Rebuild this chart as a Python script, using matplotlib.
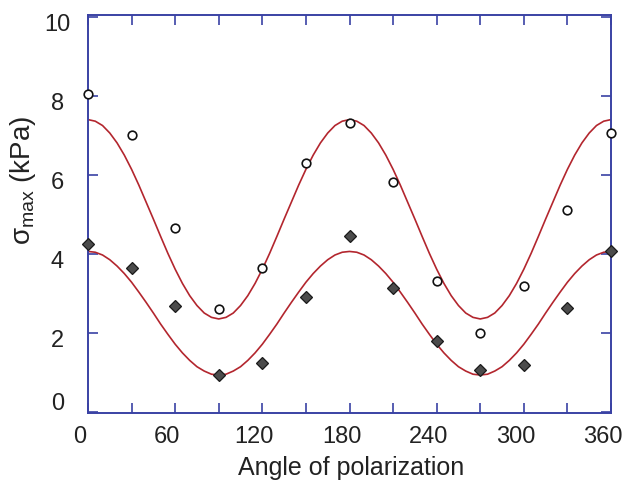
import numpy as np
import matplotlib
matplotlib.use('Agg')
import matplotlib.pyplot as plt
from matplotlib.transforms import ScaledTranslation

plt.rcParams['font.family'] = ['Liberation Sans', 'DejaVu Sans']
plt.rcParams['mathtext.fontset'] = 'custom'
plt.rcParams['mathtext.rm'] = 'Liberation Sans'
plt.rcParams['mathtext.it'] = 'Liberation Sans:italic'

# measured peak stress vs. polarization angle
angle = [0, 30, 60, 90, 120, 150, 180, 210, 240, 270, 300, 330, 360]
sigma_open = [8.05, 7.00, 4.66, 2.60, 3.64, 6.30, 7.32, 5.81, 3.30, 1.99, 3.19, 5.12, 7.05]
sigma_filled = [4.25, 3.64, 2.69, 0.93, 1.23, 2.90, 4.44, 3.14, 1.79, 1.06, 1.18, 2.62, 4.08]

# fitted curves, read every 5 degrees over 0-90 (they repeat every 180)
upper_quarter = [7.40, 7.36, 7.25, 7.06, 6.81, 6.50, 6.14, 5.74, 5.31, 4.88,
                 4.44, 4.01, 3.61, 3.25, 2.94, 2.69, 2.50, 2.39, 2.35]
lower_quarter = [4.06, 4.04, 3.97, 3.85, 3.69, 3.50, 3.28, 3.03, 2.77, 2.50,
                 2.22, 1.96, 1.71, 1.49, 1.30, 1.14, 1.03, 0.95, 0.93]


def full_turn(quarter):
    half = quarter + quarter[-2::-1]
    return half + half[1:]


fit_upper = full_turn(upper_quarter)
fit_lower = full_turn(lower_quarter)
fit_angle = list(range(0, 361, 5))

x_ticks = [0, 60, 120, 180, 240, 300, 360]
x_minor = [30, 90, 150, 210, 270, 330]
y_ticks = [0, 2, 4, 6, 8, 10]

axis_blue = '#3a42a4'
curve_red = '#b3262e'
text_col = '#222222'

fig = plt.figure(figsize=(6.24, 4.83), dpi=100)
ax = fig.add_axes([88/624, 1 - 412.5/483, (611 - 88)/624, (412.5 - 15)/483])

ax.plot(fit_angle, fit_upper, color=curve_red, lw=1.2, zorder=2)
ax.plot(fit_angle, fit_lower, color=curve_red, lw=1.2, zorder=2)
ax.plot(angle, sigma_open, ls='none', marker='o', ms=6.2, mfc='white',
        mec='#111111', mew=1.2, zorder=4, clip_on=False)
ax.plot(angle, sigma_filled, ls='none', marker='D', ms=6.2, mfc='#4b4b4b',
        mec='#1a1a1a', mew=0.9, zorder=4, clip_on=False)

ax.set_xlim(0, 360)
ax.set_ylim(-0.02, 10.05)

for s in ax.spines.values():
    s.set_color(axis_blue)
    s.set_linewidth(1.4)

ax.set_xticks(x_ticks)
ax.set_xticks(x_minor, minor=True)
ax.set_yticks(y_ticks)
ax.tick_params(axis='both', which='both', direction='in', length=7, width=1.2,
               color=axis_blue, top=True, right=True, labelsize=17,
               labelcolor=text_col)
ax.tick_params(axis='x', which='major', pad=10)
ax.tick_params(axis='y', which='major', pad=22)

# nudge tick labels into place
for lab in ax.get_xticklabels():
    lab.set_transform(lab.get_transform() + ScaledTranslation(-8/100, 0, fig.dpi_scale_trans))
for lab in ax.get_yticklabels():
    lab.set_horizontalalignment('center')
    dy = 10/100 if lab.get_text() == '0' else -6/100
    lab.set_transform(lab.get_transform() + ScaledTranslation(0, dy, fig.dpi_scale_trans))

ax.set_xlabel('Angle of polarization', fontsize=18, color=text_col)
ax.xaxis.set_label_coords(0.503, -0.109)
ax.set_ylabel('σ$_{\\mathrm{max}}$ (kPa)', fontsize=20, color=text_col)
ax.yaxis.set_label_coords(-0.096, 0.585)

fig.savefig('out.png', dpi=100)
